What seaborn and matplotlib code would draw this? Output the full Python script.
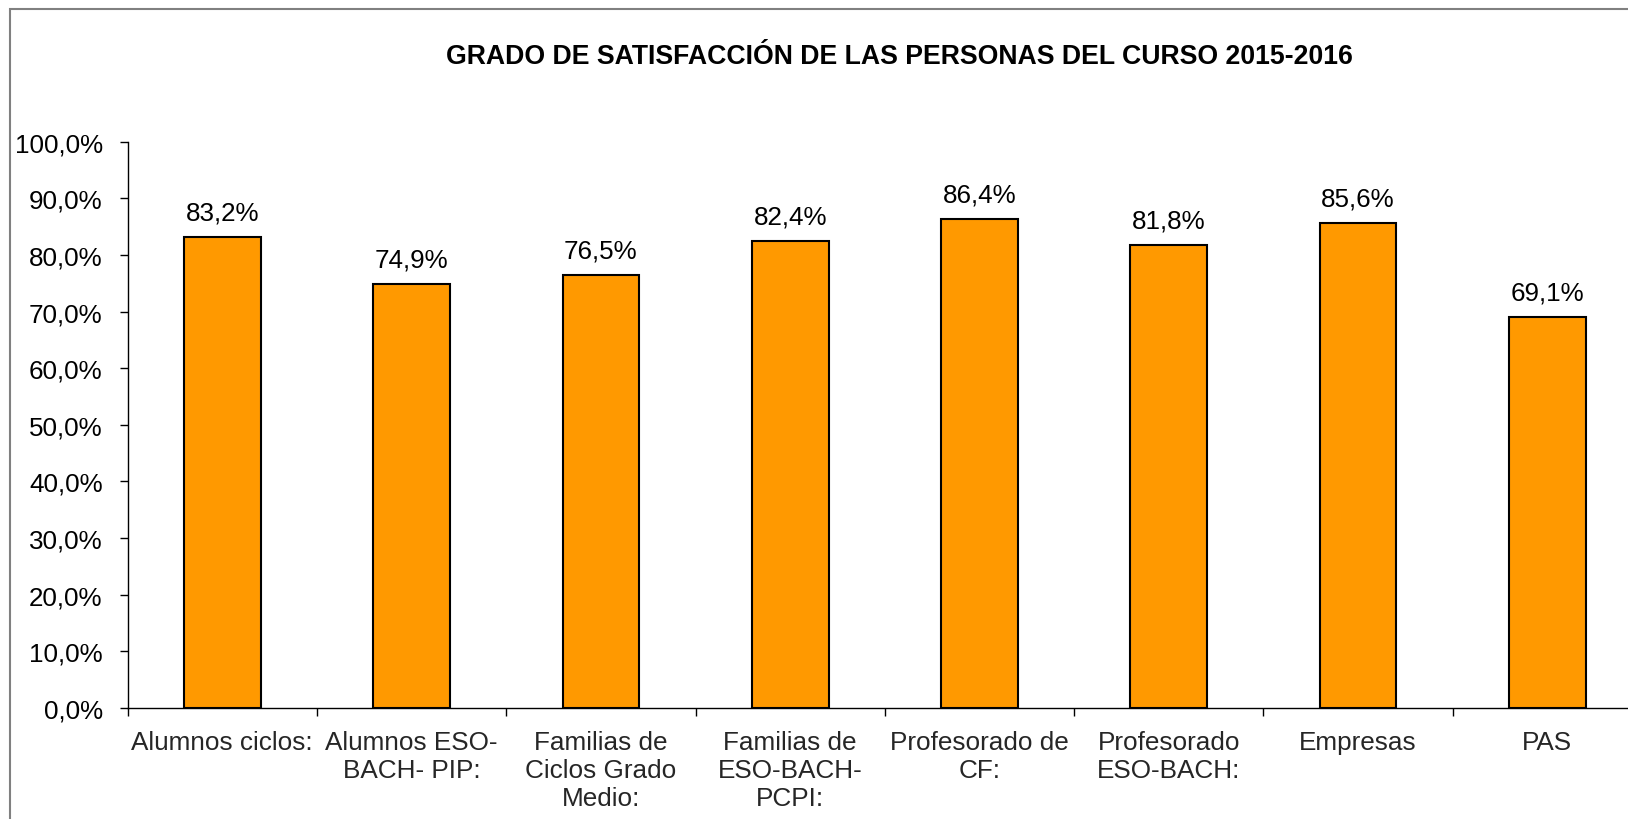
import pandas as pd
import seaborn as sns
import matplotlib
matplotlib.use('Agg')
import matplotlib.pyplot as plt
from matplotlib.patches import Rectangle
from matplotlib.ticker import FuncFormatter, FixedLocator

# Datos del gráfico
grupos = [
    "Alumnos ciclos:",
    "Alumnos ESO-\nBACH- PIP:",
    "Familias de\nCiclos Grado\nMedio:",
    "Familias de\nESO-BACH-\nPCPI:",
    "Profesorado de\nCF:",
    "Profesorado\nESO-BACH:",
    "Empresas",
    "PAS",
]
satisfaccion = [83.2, 74.9, 76.5, 82.4, 86.4, 81.8, 85.6, 69.1]
titulo = "GRADO DE SATISFACCIÓN DE LAS PERSONAS DEL CURSO 2015-2016"

data = pd.DataFrame({"grupo": grupos, "valor": satisfaccion})

sns.set_style("white")
plt.rcParams['font.family'] = ['Liberation Sans', 'DejaVu Sans']

fig = plt.figure(figsize=(16.28, 8.2), dpi=100)
ax = fig.add_axes([0.0784, 0.1354, 0.9302, 0.6906])

sns.barplot(data=data, x="grupo", y="valor", color="#FF9900", saturation=1,
            edgecolor="black", linewidth=1.5, width=0.405, ax=ax)

ax.set_xlim(-0.5, len(grupos) - 0.5)
ax.set_ylim(0, 100)
ax.set_xlabel("")
ax.set_ylabel("")

# eje y con formato español
ax.yaxis.set_major_locator(FixedLocator(range(0, 101, 10)))
ax.yaxis.set_major_formatter(FuncFormatter(lambda v, p: f"{v:.1f}%".replace(".", ",")))
ax.tick_params(axis="y", which="major", direction="out", length=6, width=1,
               left=True, labelsize=18.7, pad=12, colors="black")

# marcas entre categorías, etiquetas centradas
ax.xaxis.set_major_locator(FixedLocator([i - 0.5 for i in range(len(grupos) + 1)]))
ax.xaxis.set_major_formatter(FuncFormatter(lambda v, p: ""))
ax.xaxis.set_minor_locator(FixedLocator(range(len(grupos))))
ax.set_xticklabels(grupos, minor=True)
ax.tick_params(axis="x", which="major", direction="out", length=6, width=1,
               bottom=True, colors="black")
ax.tick_params(axis="x", which="minor", length=0, labelsize=18.8, pad=16)
for lbl in ax.get_xticklabels(minor=True):
    lbl.set_ha("center")
    lbl.set_multialignment("center")

sns.despine(ax=ax, top=True, right=True)
for s in ("left", "bottom"):
    ax.spines[s].set_color("black")
    ax.spines[s].set_linewidth(1)

# etiquetas de valor
for i, v in enumerate(satisfaccion):
    ax.annotate(f"{v:.1f}%".replace(".", ","), xy=(i, v), xytext=(0, 12.5),
                textcoords="offset points", ha="center", va="baseline",
                fontsize=18.7, color="black")

fig.text(899 / 1628, 1 - 64.3 / 820, titulo, ha="center", va="baseline",
         fontsize=19.2, fontweight="bold", color="black")

# marco gris del gráfico
fig.patches.append(Rectangle((10 / 1628, -0.1), 1.2, 1 - 10 / 820 + 0.1,
                             transform=fig.transFigure, fill=False,
                             edgecolor="#808080", linewidth=1.5))

fig.savefig("out.png", dpi=100)
plt.close(fig)
